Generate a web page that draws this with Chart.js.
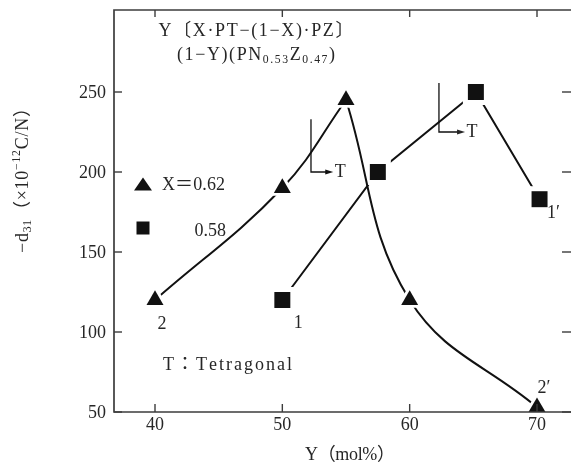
<!DOCTYPE html>
<html><head><meta charset="utf-8">
<script src="https://cdn.jsdelivr.net/npm/chart.js@4.4.1/dist/chart.umd.min.js"></script>
<style>
html,body{margin:0;padding:0;background:#fff;overflow:hidden;width:571px;height:466px}
#wrap{position:absolute;left:0;top:0;width:571px;height:466px}
canvas{display:block;width:571px;height:466px}
</style></head><body>
<div id="wrap"><canvas id="c" width="571" height="466"></canvas></div>
<script>
// ---- data ----
const xTicks = [40, 50, 60, 70];
const yTicks = [50, 100, 150, 200, 250];
// X = 0.62 (triangles)
const triY = [40, 50, 55, 60, 70];
const triD = [120, 190, 245, 120, 53];
// X = 0.58 (squares)
const sqY = [50, 57.5, 65.2, 70.2];
const sqD = [120, 200, 250, 183];
// point labels (anchored to data points)
const ptLabels = [
  {t: '2',  at: [40, 120],   dx: 7,  dy: 24},
  {t: '1',  at: [50, 120],   dx: 16, dy: 23},
  {t: '1′', at: [70.2, 183], dx: 14, dy: 14},
  {t: '2′', at: [70, 53],    dx: 7,  dy: -19}
];
// tetragonal boundary markers (data coords)
const tMarks = [
  {x: 52.25, top: 233, y: 200, tip: 54.0},
  {x: 62.3,  top: 255.6, y: 225, tip: 64.35}
];

const FONT = '"Liberation Serif","Noto Sans CJK JP",serif';
const TXT = '#262626';
const INK = '#111';

function pts(xs, ys, from, to) {
  const out = [];
  for (let i = from; i < to; i++) out.push({x: xs[i], y: ys[i]});
  return out;
}
const triPts = pts(triY, triD, 0, triY.length);
const triRise = pts(triY, triD, 0, 3);
const triFall = pts(triY, triD, 2, 5);
const sqPts = pts(sqY, sqD, 0, sqY.length);

function setFont(ctx, size) { ctx.font = size + 'px ' + FONT; }
function chars(segs) { let n = 0; segs.forEach(s => n += [...s.t].length); return n; }
function natWidth(ctx, segs, size) {
  let w = 0;
  for (const s of segs) {
    setFont(ctx, s.k ? size * 0.65 : size);
    for (const ch of [...s.t]) w += ctx.measureText(ch).width;
  }
  return w;
}
// draw segments; spec: {segs,size,y, cx|left|right, w}
function drawSegs(ctx, spec) {
  const size = spec.size;
  const n = chars(spec.segs);
  const nat = natWidth(ctx, spec.segs, size);
  const ls = spec.w ? (spec.w - nat) / Math.max(1, n - 1) : 0;
  const total = nat + ls * (n - 1);
  let x;
  if (spec.left !== undefined) x = spec.left;
  else if (spec.right !== undefined) x = spec.right - total;
  else x = spec.cx - total / 2;
  ctx.textBaseline = 'middle';
  ctx.textAlign = 'left';
  ctx.fillStyle = TXT;
  for (const s of spec.segs) {
    const fs = s.k ? size * 0.65 : size;
    setFont(ctx, fs);
    const dy = s.k === 'sub' ? size * 0.26 : s.k === 'sup' ? -size * 0.33 : 0;
    for (const ch of [...s.t]) {
      ctx.fillText(ch, x, spec.y + dy);
      x += ctx.measureText(ch).width + ls;
    }
  }
}

const deco = {
  id: 'deco',
  beforeDraw(chart) {
    const c = chart.ctx;
    c.save(); c.fillStyle = '#fff'; c.fillRect(0, 0, chart.width, chart.height); c.restore();
  },
  afterDatasetsDraw(chart) {
    const ctx = chart.ctx, a = chart.chartArea, xs = chart.scales.x, ys = chart.scales.y;
    const rightEdge = a.right + 1;
    ctx.save();
    // frame (right side lies just outside the picture)
    ctx.strokeStyle = '#3c3c3c';
    ctx.lineWidth = 1.7;
    ctx.beginPath();
    ctx.moveTo(rightEdge + 2, a.top); ctx.lineTo(a.left, a.top); ctx.lineTo(a.left, a.bottom); ctx.lineTo(rightEdge + 2, a.bottom);
    ctx.stroke();
    const line = (x1, y1, x2, y2) => { ctx.beginPath(); ctx.moveTo(x1, y1); ctx.lineTo(x2, y2); ctx.stroke(); };
    ctx.lineWidth = 1.4;
    xTicks.forEach(v => {
      const p = xs.getPixelForValue(v);
      line(p, a.bottom, p, a.bottom - 8);
      line(p, a.top, p, a.top + 7);
    });
    yTicks.forEach(v => {
      const p = ys.getPixelForValue(v);
      line(a.left, p, a.left + 8, p);
      line(rightEdge, p, rightEdge - 10, p);
    });
    // tick labels
    xTicks.forEach(v => drawSegs(ctx, {segs: [{t: String(v)}], size: 18, cx: xs.getPixelForValue(v), y: a.bottom + 13}));
    yTicks.forEach(v => drawSegs(ctx, {segs: [{t: String(v)}], size: 18, right: a.left - 8, y: ys.getPixelForValue(v) + 1}));
    // axis titles
    drawSegs(ctx, {segs: [{t: 'Y（mol%）'}], size: 18, cx: 350, y: 455, w: 90});
    ctx.save();
    ctx.translate(23, 176);
    ctx.rotate(-Math.PI / 2);
    drawSegs(ctx, {segs: [{t: '−d'}, {t: '31', k: 'sub'}, {t: '（×10'}, {t: '−12', k: 'sup'}, {t: 'C/N）'}], size: 18, cx: 0, y: 0, w: 154});
    ctx.restore();
    // composition formula
    drawSegs(ctx, {segs: [{t: 'Y〔X·PT−(1−X)·PZ〕'}], size: 18, cx: 256, y: 31, w: 195});
    drawSegs(ctx, {segs: [{t: '(1−Y)(PN'}, {t: '0.53', k: 'sub'}, {t: 'Z'}, {t: '0.47', k: 'sub'}, {t: ')'}], size: 18, cx: 256, y: 55, w: 158});
    // legend
    ctx.fillStyle = INK;
    const tr = 10;
    ctx.beginPath();
    ctx.moveTo(143, 185 - tr * 0.75); ctx.lineTo(143 + tr * 0.9, 185 + tr * 0.55); ctx.lineTo(143 - tr * 0.9, 185 + tr * 0.55); ctx.closePath(); ctx.fill();
    ctx.fillRect(136.5, 221.5, 13, 13);
    drawSegs(ctx, {segs: [{t: 'X＝0.62'}], size: 18, left: 162, y: 185, w: 63});
    drawSegs(ctx, {segs: [{t: '0.58'}], size: 18, right: 226, y: 231});
    drawSegs(ctx, {segs: [{t: 'T：Tetragonal'}], size: 18, left: 163, y: 365, w: 129});
    // point labels
    ptLabels.forEach(l => drawSegs(ctx, {segs: [{t: l.t}], size: 18, cx: xs.getPixelForValue(l.at[0]) + l.dx, y: ys.getPixelForValue(l.at[1]) + l.dy}));
    // T markers
    ctx.strokeStyle = INK; ctx.fillStyle = INK; ctx.lineWidth = 1.3;
    tMarks.forEach(m => {
      const x = xs.getPixelForValue(m.x), y0 = ys.getPixelForValue(m.top), y = ys.getPixelForValue(m.y), tip = xs.getPixelForValue(m.tip);
      ctx.beginPath(); ctx.moveTo(x, y0); ctx.lineTo(x, y); ctx.lineTo(tip - 6, y); ctx.stroke();
      ctx.beginPath(); ctx.moveTo(tip, y); ctx.lineTo(tip - 8, y - 2.6); ctx.lineTo(tip - 8, y + 2.6); ctx.closePath(); ctx.fill();
      drawSegs(ctx, {segs: [{t: 'T'}], size: 18, cx: tip + 7, y: y + 0.5});
    });
    ctx.restore();
  }
};

const lineDs = (data, tension) => ({data, showLine: true, pointRadius: 0, borderColor: INK, borderWidth: 2, tension, fill: false});
const markDs = (data, style, r, color) => ({data, showLine: false, pointStyle: style, pointRadius: r, pointBackgroundColor: color, pointBorderWidth: 0, pointBorderColor: color, clip: false});

new Chart(document.getElementById('c'), {
  type: 'line',
  data: {
    datasets: [
      Object.assign(markDs(triPts, 'triangle', 9.8, INK), {label: 'X=0.62'}),
      Object.assign(markDs(sqPts, 'rect', 11.3, INK), {label: '0.58'}),
      markDs(triPts, 'triangle', 15.5, '#fff'),
      lineDs(triRise, 0.4),
      lineDs(triFall, 0.4),
      markDs(sqPts, 'rect', 18.4, '#fff'),
      lineDs(sqPts, 0)
    ]
  },
  options: {
    responsive: false,
    animation: false,
    events: [],
    layout: {autoPadding: false, padding: {left: 114, top: 10, right: 0, bottom: 54}},
    scales: {
      x: {type: 'linear', display: false, min: 36.78, max: 72.67},
      y: {type: 'linear', display: false, min: 50, max: 301.25}
    },
    plugins: {legend: {display: false}, tooltip: {enabled: false}}
  },
  plugins: [deco]
});
</script>
</body></html>
